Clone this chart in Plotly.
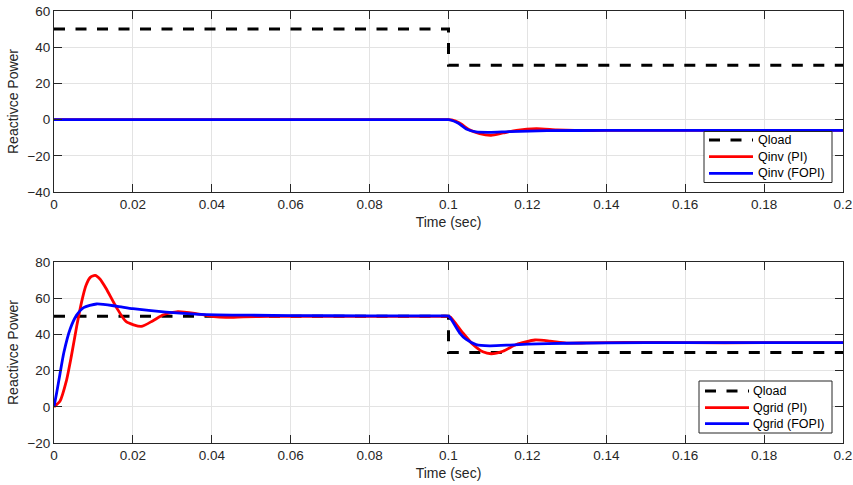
import plotly.graph_objects as go

# ---------------- data ----------------
x_ticks = [0, 0.02, 0.04, 0.06, 0.08, 0.1, 0.12, 0.14, 0.16, 0.18, 0.2]
x_tick_labels = ["0", "0.02", "0.04", "0.06", "0.08", "0.1", "0.12", "0.14", "0.16", "0.18", "0.2"]
y_ticks_top = [-40, -20, 0, 20, 40, 60]
y_ticks_bot = [-20, 0, 20, 40, 60, 80]

# Load reactive power (step at 0.1 s)
t_load = [0, 0.1, 0.1, 0.2]
q_load = [50, 50, 30, 30]

# Inverter reactive power, PI
t_inv_pi = [0, 0.03, 0.06, 0.09, 0.098, 0.1, 0.1008, 0.1028, 0.1053, 0.1079, 0.1108, 0.1138, 0.1172,
            0.1223, 0.1274, 0.132, 0.14, 0.16, 0.18, 0.2]
q_inv_pi = [0, 0, 0, 0, 0, 0, -0.2, -1.9, -5.6, -7.8, -8.7, -7.4, -5.9,
            -5.0, -5.7, -6.0, -6.0, -6.0, -6.0, -6.0]

# Inverter reactive power, FOPI
t_inv_fopi = [0, 0.03, 0.06, 0.09, 0.098, 0.1, 0.1005, 0.1024, 0.1045, 0.107, 0.1104, 0.1155, 0.125,
              0.14, 0.16, 0.18, 0.2]
q_inv_fopi = [0, 0, 0, 0, 0, 0, -0.2, -1.9, -5.2, -6.8, -7.0, -6.6, -6.1,
              -6.0, -6.0, -6.0, -6.0]

# Grid reactive power, PI
t_grid_pi = [0, 0.0015, 0.0031, 0.0044, 0.0058, 0.007, 0.0081, 0.0092, 0.0104, 0.0117, 0.01325, 0.0158,
             0.0183, 0.0221, 0.0251, 0.0276, 0.0314, 0.036, 0.0405, 0.0436, 0.048, 0.055, 0.07, 0.085,
             0.098, 0.1, 0.1005, 0.1036, 0.1062, 0.1087, 0.1108, 0.1138, 0.1172, 0.1219, 0.1257,
             0.1299, 0.135, 0.145, 0.16, 0.18, 0.2]
q_grid_pi = [0, 3, 14, 28, 45, 58, 67, 71.5, 72.6, 70.5, 65.2, 55,
             47, 44.4, 47.6, 50.7, 52.6, 51.5, 49.8, 49.4, 49.7, 50, 50, 50,
             50, 50, 49.5, 40.9, 34.4, 30.4, 29.3, 30.7, 34.4, 36.9, 36.3,
             35.2, 35.3, 35.6, 35.4, 35.4, 35.4]

# Grid reactive power, FOPI
t_grid_fopi = [0, 0.0007, 0.0015, 0.0025, 0.0041, 0.0057, 0.0075, 0.0108, 0.0158, 0.02, 0.0284,
               0.0369, 0.05, 0.07, 0.09, 0.098, 0.1, 0.1007, 0.1028, 0.1045, 0.107, 0.1104, 0.1155,
               0.12, 0.13, 0.15, 0.17, 0.2]
q_grid_fopi = [0, 8, 18, 30, 43, 50.5, 54.8, 56.8, 55.6, 54.2, 52.3,
               51.1, 50.6, 50.3, 50.2, 50.2, 50.1, 48.3, 40.9, 37.2, 34.4, 33.7, 34.1,
               34.6, 35.1, 35.4, 35.4, 35.4]

legend_top_names = ["Qload", "Qinv (PI)", "Qinv (FOPI)"]
legend_bot_names = ["Qload", "Qgrid (PI)", "Qgrid (FOPI)"]

# ---------------- figure ----------------
fig = go.Figure()

TXT = "#262626"
FONT = "Liberation Sans, Arial, sans-serif"
SM = 0.6
LW = 2.8
DASH = "11px,10.5px"
styles = [dict(color="black", width=3, dash=DASH),
          dict(color="#ff0000", width=LW, shape="spline", smoothing=SM),
          dict(color="#0000ff", width=LW, shape="spline", smoothing=SM)]

top_series = [(t_load, q_load), (t_inv_pi, q_inv_pi), (t_inv_fopi, q_inv_fopi)]
bot_series = [(t_load, q_load), (t_grid_pi, q_grid_pi), (t_grid_fopi, q_grid_fopi)]

for (tx, qy), nm, st in zip(top_series, legend_top_names, styles):
    fig.add_trace(go.Scatter(x=tx, y=qy, mode="lines", name=nm, line=st,
                             xaxis="x", yaxis="y", showlegend=False))
for (tx, qy), nm, st in zip(bot_series, legend_bot_names, styles):
    fig.add_trace(go.Scatter(x=tx, y=qy, mode="lines", name=nm, line=st,
                             xaxis="x2", yaxis="y2", showlegend=False))

xax = dict(range=[0, 0.2], tickvals=x_ticks, ticktext=x_tick_labels, automargin=False,
           showline=True, linecolor=TXT, linewidth=1, mirror="ticks",
           ticks="inside", ticklen=8, tickcolor=TXT,
           showgrid=True, gridcolor="#e3e3e3", gridwidth=1, zeroline=False,
           tickfont=dict(size=13.5, color=TXT, family=FONT),
           title=dict(text="Time (sec)", font=dict(size=14, color=TXT, family=FONT), standoff=5))
yax = dict(showline=True, linecolor=TXT, linewidth=1, mirror="ticks", automargin=False,
           ticks="inside", ticklen=8, tickcolor=TXT,
           showgrid=True, gridcolor="#e3e3e3", gridwidth=1, zeroline=False,
           tickfont=dict(size=13.5, color=TXT, family=FONT),
           title=dict(text="Reactivce Power", font=dict(size=14, color=TXT, family=FONT), standoff=5))

# ---- hand-drawn legend boxes (MATLAB-style compact legends) ----
L, T, PW, PH = 54, 11, 789, 432  # plot area in pixels


def px(x):
    return (x - L) / PW


def py(y):
    return (T + PH - y) / PH


shapes = []
annotations = []


def add_legend(box, rows, line_x0, line_x1, text_x, names):
    x0, y0, x1, y1 = box
    shapes.append(dict(type="rect", xref="paper", yref="paper",
                       x0=px(x0), x1=px(x1), y0=py(y0), y1=py(y1),
                       fillcolor="white", line=dict(color=TXT, width=1), layer="above"))
    for yrow, nm, st in zip(rows, names, styles):
        ln = dict(color=st["color"], width=st["width"])
        if st.get("dash"):
            ln["dash"] = st["dash"]
        shapes.append(dict(type="line", xref="paper", yref="paper",
                           x0=px(line_x0), x1=px(line_x1), y0=py(yrow), y1=py(yrow),
                           line=ln, layer="above"))
        annotations.append(dict(xref="paper", yref="paper", x=px(text_x), y=py(yrow),
                                text=nm, showarrow=False, xanchor="left", yanchor="middle",
                                font=dict(size=12.5, color="black", family=FONT)))


add_legend((704, 131.5, 832, 182.5), [140, 156.7, 173.3], 709, 753, 756, legend_top_names)
add_legend((699, 381, 832, 433), [391, 407.7, 423.7], 705, 749, 751, legend_bot_names)

fig.update_layout(
    width=853, height=485,
    margin=dict(l=L, r=10, t=T, b=42),
    paper_bgcolor="white", plot_bgcolor="white",
    font=dict(family=FONT, color=TXT),
    xaxis=dict(xax, domain=[0, 1], anchor="y"),
    yaxis=dict(yax, domain=[0.581, 1], range=[-40, 60], tickvals=y_ticks_top, anchor="x"),
    xaxis2=dict(xax, domain=[0, 1], anchor="y2"),
    yaxis2=dict(yax, domain=[0, 0.419], range=[-20, 80], tickvals=y_ticks_bot, anchor="x2"),
    shapes=shapes,
    annotations=annotations,
    showlegend=False,
)

fig.write_html("out.html", config={"displayModeBar": False},
               post_script="document.body.style.margin='0';document.body.style.overflow='hidden';")
